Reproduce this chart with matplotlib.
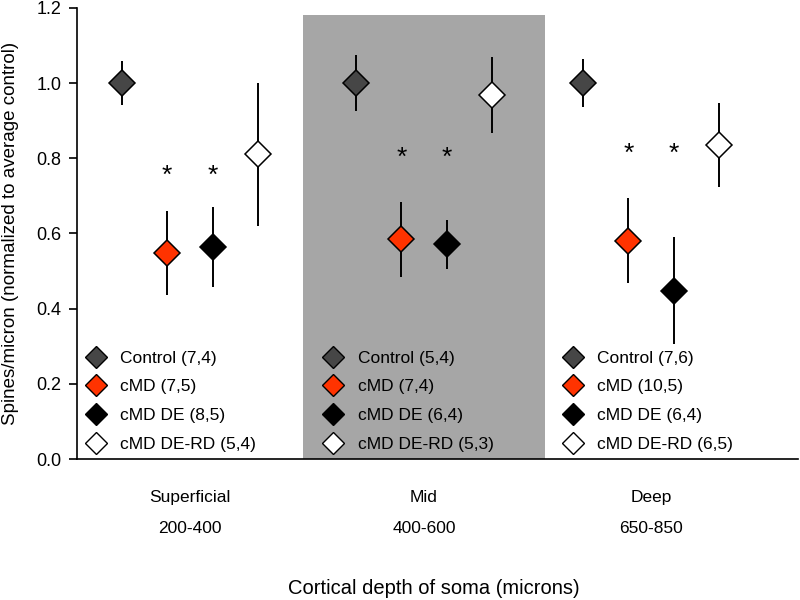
import matplotlib
matplotlib.use("Agg")
import matplotlib.pyplot as plt
from matplotlib.lines import Line2D
from matplotlib.legend import Legend
import numpy as np

plt.rcParams['font.family'] = ['Liberation Sans', 'DejaVu Sans']

# data
groups = ['Superficial', 'Mid', 'Deep']
depth_ranges = ['200-400', '400-600', '650-850']
conditions = ['Control', 'cMD', 'cMD DE', 'cMD DE-RD']
n_counts = [['(7,4)', '(7,5)', '(8,5)', '(5,4)'],
            ['(5,4)', '(7,4)', '(6,4)', '(5,3)'],
            ['(7,6)', '(10,5)', '(6,4)', '(6,5)']]

control_mean = [1.0, 1.0, 1.0]
cmd_mean = [0.547, 0.584, 0.581]
de_mean = [0.563, 0.571, 0.448]
rd_mean = [0.81, 0.968, 0.835]

control_err = [0.058, 0.075, 0.063]
cmd_err = [0.112, 0.099, 0.113]
de_err = [0.106, 0.065, 0.142]
rd_err = [0.19, 0.10, 0.112]

# significance marks (cMD and cMD DE vs control)
star_y = [0.768, 0.816, 0.826]

means = [control_mean, cmd_mean, de_mean, rd_mean]
errs = [control_err, cmd_err, de_err, rd_err]
colors = ['#464646', '#ff3300', '#000000', '#ffffff']

fig = plt.figure(figsize=(8, 6), dpi=100)
ax = fig.add_axes([0.096, 0.235, 0.902, 0.752])

group_x = np.array([1.0, 2.015, 3.0])
offsets = np.array([-1.5, -0.5, 0.5, 1.5]) * 0.197

# shaded band behind the middle group
ax.fill_between([group_x[1] - 0.525, group_x[1] + 0.525], 0, 1.181,
                color='#a6a6a6', lw=0, zorder=0)

for k in range(len(conditions)):
    xs = group_x + offsets[k]
    ax.errorbar(xs, means[k], yerr=errs[k], fmt='none', ecolor='black',
                elinewidth=1.4, capsize=0, zorder=2)
    ax.plot(xs, means[k], linestyle='none', marker='D', markersize=13.5,
            markerfacecolor=colors[k], markeredgecolor='black',
            markeredgewidth=1.1, zorder=3)

for g in range(len(groups)):
    for k in (1, 2):
        ax.annotate('*', (group_x[g] + offsets[k], star_y[g]),
                    xytext=(0, -4), textcoords='offset points',
                    ha='center', va='center', fontsize=19)

# one legend per group
legend_x = [0.0148, 0.3435, 0.675]
for g in range(len(groups)):
    handles = [Line2D([], [], linestyle='none', marker='D', markersize=11,
                      markerfacecolor=colors[k], markeredgecolor='black',
                      markeredgewidth=1.0) for k in range(len(conditions))]
    labels = [f"{conditions[k]} {n_counts[g][k]}" for k in range(len(conditions))]
    leg = Legend(ax, handles, labels, loc='lower left',
                 bbox_to_anchor=(legend_x[g], 0.016), frameon=False,
                 fontsize=12.5, handlelength=1.0, handletextpad=0.9,
                 labelspacing=0.78, borderpad=0, borderaxespad=0)
    ax.add_artist(leg)

for g in range(len(groups)):
    ax.text(group_x[g], -0.086, groups[g], transform=ax.get_xaxis_transform(),
            ha='center', va='center', fontsize=12.5)
    ax.text(group_x[g], -0.155, depth_ranges[g], transform=ax.get_xaxis_transform(),
            ha='center', va='center', fontsize=12.5)

ax.set_xlim(0.510, 3.638)
ax.set_ylim(0, 1.2)
ax.set_yticks(np.arange(0, 1.21, 0.2))
ax.set_yticklabels([f"{v:.1f}" for v in np.arange(0, 1.21, 0.2)])
ax.set_xticks([])
ax.tick_params(axis='y', direction='out', length=6, width=1.2, labelsize=13, pad=5)
ax.spines['top'].set_visible(False)
ax.spines['right'].set_visible(False)
ax.spines['left'].set_linewidth(1.2)
ax.spines['bottom'].set_linewidth(1.2)

fig.text(0.013, 0.235 + 0.752 / 2, 'Spines/micron (normalized to average control)',
         rotation=90, ha='center', va='center', fontsize=13.5)
fig.text(0.5425, 0.02, 'Cortical depth of soma (microns)', ha='center',
         va='center', fontsize=14.5)

fig.savefig('out.png', dpi=100)
